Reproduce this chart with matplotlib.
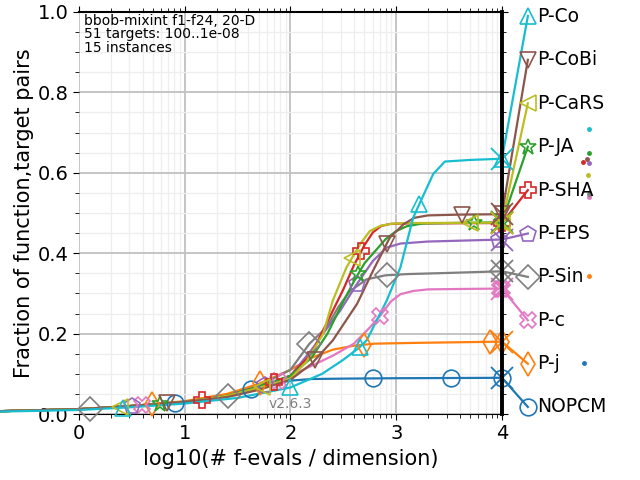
import numpy as np
import matplotlib
matplotlib.use("Agg")
import matplotlib.pyplot as plt

# algorithms, colours, markers
names = ["NOPCM", "P-j", "P-c", "P-Sin", "P-EPS", "P-SHA", "P-JA", "P-CaRS", "P-CoBi", "P-Co"]
colors = ["#1f77b4", "#ff7f0e", "#e377c2", "#7f7f7f", "#9467bd",
          "#d62728", "#2ca02c", "#bcbd22", "#8c564b", "#17becf"]
markers = ["o", "d", "X", "D", "p", "P", "*", "<", "v", "^"]

# ECDF curves (log10 evals/dim, fraction)
x_nopcm = [-0.75, 0, 0.5, 1.0, 1.3, 1.6, 1.8, 2.0, 2.2, 2.5, 3.0, 4.0]
y_nopcm = [0.007, 0.012, 0.02, 0.03, 0.04, 0.06, 0.075, 0.083, 0.087, 0.088, 0.089, 0.09]
x_pj = [-0.75, 0, 0.5, 1.0, 1.4, 1.7, 2.0, 2.2, 2.4, 2.6, 2.8, 3.2, 4.0]
y_pj = [0.007, 0.012, 0.02, 0.032, 0.05, 0.075, 0.11, 0.14, 0.16, 0.17, 0.175, 0.177, 0.18]
x_pc = [-0.75, 0, 0.5, 1, 1.4, 1.7, 2.0, 2.2, 2.4, 2.6, 2.75, 2.85, 2.95, 3.04, 3.16, 3.3, 3.6, 4.0]
y_pc = [0.007, 0.012, 0.02, 0.03, 0.045, 0.065, 0.095, 0.12, 0.145, 0.175, 0.215, 0.245, 0.28, 0.298, 0.306, 0.31, 0.311, 0.312]
x_psin = [-0.75, 0, 0.5, 1, 1.4, 1.7, 2.0, 2.18, 2.34, 2.45, 2.56, 2.72, 2.9, 3.1, 3.5, 4.0]
y_psin = [0.007, 0.012, 0.02, 0.03, 0.045, 0.07, 0.11, 0.175, 0.215, 0.265, 0.305, 0.335, 0.345, 0.348, 0.351, 0.355]
x_peps = [-0.75, 0, 0.5, 1, 1.4, 1.7, 2.0, 2.2, 2.35, 2.47, 2.63, 2.78, 2.91, 3.04, 3.3, 4.0]
y_peps = [0.007, 0.012, 0.02, 0.03, 0.045, 0.065, 0.095, 0.16, 0.215, 0.257, 0.324, 0.381, 0.414, 0.424, 0.429, 0.434]
x_psha = [-0.75, 0, 0.5, 1, 1.4, 1.7, 2.0, 2.2, 2.35, 2.5, 2.6, 2.7, 2.78, 2.86, 2.95, 3.1, 4.0]
y_psha = [0.007, 0.012, 0.02, 0.03, 0.045, 0.068, 0.095, 0.15, 0.23, 0.31, 0.37, 0.42, 0.452, 0.468, 0.473, 0.474, 0.475]
x_pja = [-0.75, 0, 0.5, 1, 1.4, 1.7, 2.0, 2.2, 2.35, 2.5, 2.6, 2.7, 2.8, 2.9, 3.0, 3.1, 3.25, 4.0]
y_pja = [0.007, 0.012, 0.02, 0.03, 0.045, 0.068, 0.095, 0.14, 0.2, 0.28, 0.33, 0.375, 0.405, 0.435, 0.455, 0.467, 0.474, 0.477]
x_pcars = [-0.75, 0, 0.5, 1, 1.4, 1.7, 2.0, 2.15, 2.31, 2.4, 2.53, 2.66, 2.75, 2.85, 2.95, 3.1, 4.0]
y_pcars = [0.007, 0.012, 0.02, 0.03, 0.045, 0.065, 0.088, 0.13, 0.2, 0.282, 0.365, 0.423, 0.455, 0.468, 0.473, 0.475, 0.476]
x_pcobi = [-0.75, 0, 0.5, 1, 1.4, 1.7, 2.0, 2.2, 2.4, 2.63, 2.78, 2.94, 3.07, 3.17, 3.3, 3.6, 4.0]
y_pcobi = [0.007, 0.012, 0.02, 0.03, 0.042, 0.06, 0.085, 0.125, 0.183, 0.274, 0.356, 0.439, 0.472, 0.488, 0.494, 0.496, 0.497]
x_pco = [-0.75, 0, 0.5, 1, 1.5, 2.0, 2.3, 2.5, 2.65, 2.72, 2.91, 3.04, 3.16, 3.25, 3.35, 3.46, 3.7, 4.0]
y_pco = [0.006, 0.01, 0.017, 0.026, 0.04, 0.066, 0.1, 0.135, 0.165, 0.183, 0.282, 0.365, 0.488, 0.54, 0.597, 0.628, 0.632, 0.635]

xs = [x_nopcm, x_pj, x_pc, x_psin, x_peps, x_psha, x_pja, x_pcars, x_pcobi, x_pco]
ys = [y_nopcm, y_pj, y_pc, y_psin, y_peps, y_psha, y_pja, y_pcars, y_pcobi, y_pco]

# marker positions along each curve (log10 evals/dim)
mark_x = [
    [0.91, 1.63, 2.78, 3.52, 4.0],
    [0.69, 1.71, 2.7, 3.89, 4.0],
    [0.6, 1.88, 2.85, 3.98, 4.0],
    [0.1, 1.41, 2.18, 2.91, 4.0],
    [0.5, 1.76, 2.63, 3.97],
    [1.16, 1.84, 2.67, 4.0],
    [0.77, 2.64, 3.74, 4.0],
    [0.39, 1.73, 2.58, 3.70, 4.0],
    [0.83, 2.23, 2.91, 3.62, 4.0],
    [0.42, 2.0, 2.66, 3.22, 4.0],
]

# label positions on the right
label_y = [0.0175, 0.125, 0.233, 0.341, 0.449, 0.557, 0.665, 0.773, 0.881, 0.99]

# small dots on the far right
dot_x = [4.78, 4.82, 4.82, 4.82, 4.82, 4.77, 4.82, 4.81, 4.8, 4.82]
dot_y = [0.1275, 0.3425, 0.54, 0.5475, 0.625, 0.6275, 0.65, 0.595, 0.635, 0.71]

fig = plt.figure(figsize=(6.4, 4.8), dpi=100)
ax = fig.add_axes([0.1234, 0.1375, 0.6609, 0.8375])

for i in range(len(names)):
    c = colors[i]
    ax.plot(xs[i], ys[i], color=c, lw=1.6, clip_on=False, zorder=3)
    my = np.interp(mark_x[i], xs[i], ys[i])
    ax.plot(mark_x[i], my, ls="none", marker=markers[i], ms=12, mfc="none",
            mec=c, mew=1.2, clip_on=False, zorder=4)
    # median max evals cross
    ax.plot([4.0], [ys[i][-1]], ls="none", marker="x", ms=16, mew=1.3,
            color=c, clip_on=False, zorder=4)
    # connector to label
    ax.plot([4.0, 4.245], [ys[i][-1], label_y[i]], color=c, lw=1.6,
            clip_on=False, zorder=3)
    ax.plot([4.245], [label_y[i]], ls="none", marker=markers[i], ms=12,
            mfc="none", mec=c, mew=1.2, clip_on=False, zorder=4)
    ax.text(4.33, label_y[i], names[i], fontsize=13.5, va="center", ha="left")
    ax.plot([dot_x[i]], [dot_y[i]], ls="none", marker="o", ms=2.5,
            color=c, clip_on=False)

ax.set_xlim(0, 4)
ax.set_ylim(0, 1)
ax.set_xticks([0, 1, 2, 3, 4])
minor = [k + np.log10(m) for k in range(4) for m in range(2, 10)]
ax.set_xticks(minor, minor=True)
ax.set_yticks([0, 0.2, 0.4, 0.6, 0.8, 1.0])
ax.set_yticks(np.arange(0.05, 1.0, 0.05), minor=True)
ax.tick_params(which="both", direction="out", top=True, right=True, labelsize=14)
ax.tick_params(which="major", length=4)
ax.tick_params(which="minor", length=3)
ax.grid(which="major", color="#c0c0c0", lw=1.3)
ax.grid(which="minor", color="#eeeeee", lw=0.9)
ax.set_axisbelow(True)

ax.spines["left"].set_visible(False)
ax.spines["top"].set_linewidth(1.5)
ax.spines["right"].set_linewidth(2.8)
ax.spines["right"].set_zorder(5)

ax.set_xlabel("log10(# f-evals / dimension)", fontsize=15)
ax.set_ylabel("Fraction of function,target pairs", fontsize=15, labelpad=3)

ax.text(0.012, 0.995, "bbob-mixint f1-f24, 20-D\n51 targets: 100..1e-08\n15 instances",
        transform=ax.transAxes, fontsize=10, va="top", ha="left", linespacing=0.95)
ax.text(2.0, 0.025, "v2.6.3", color="gray", fontsize=10, ha="center", va="center")

plt.savefig("out.png")
